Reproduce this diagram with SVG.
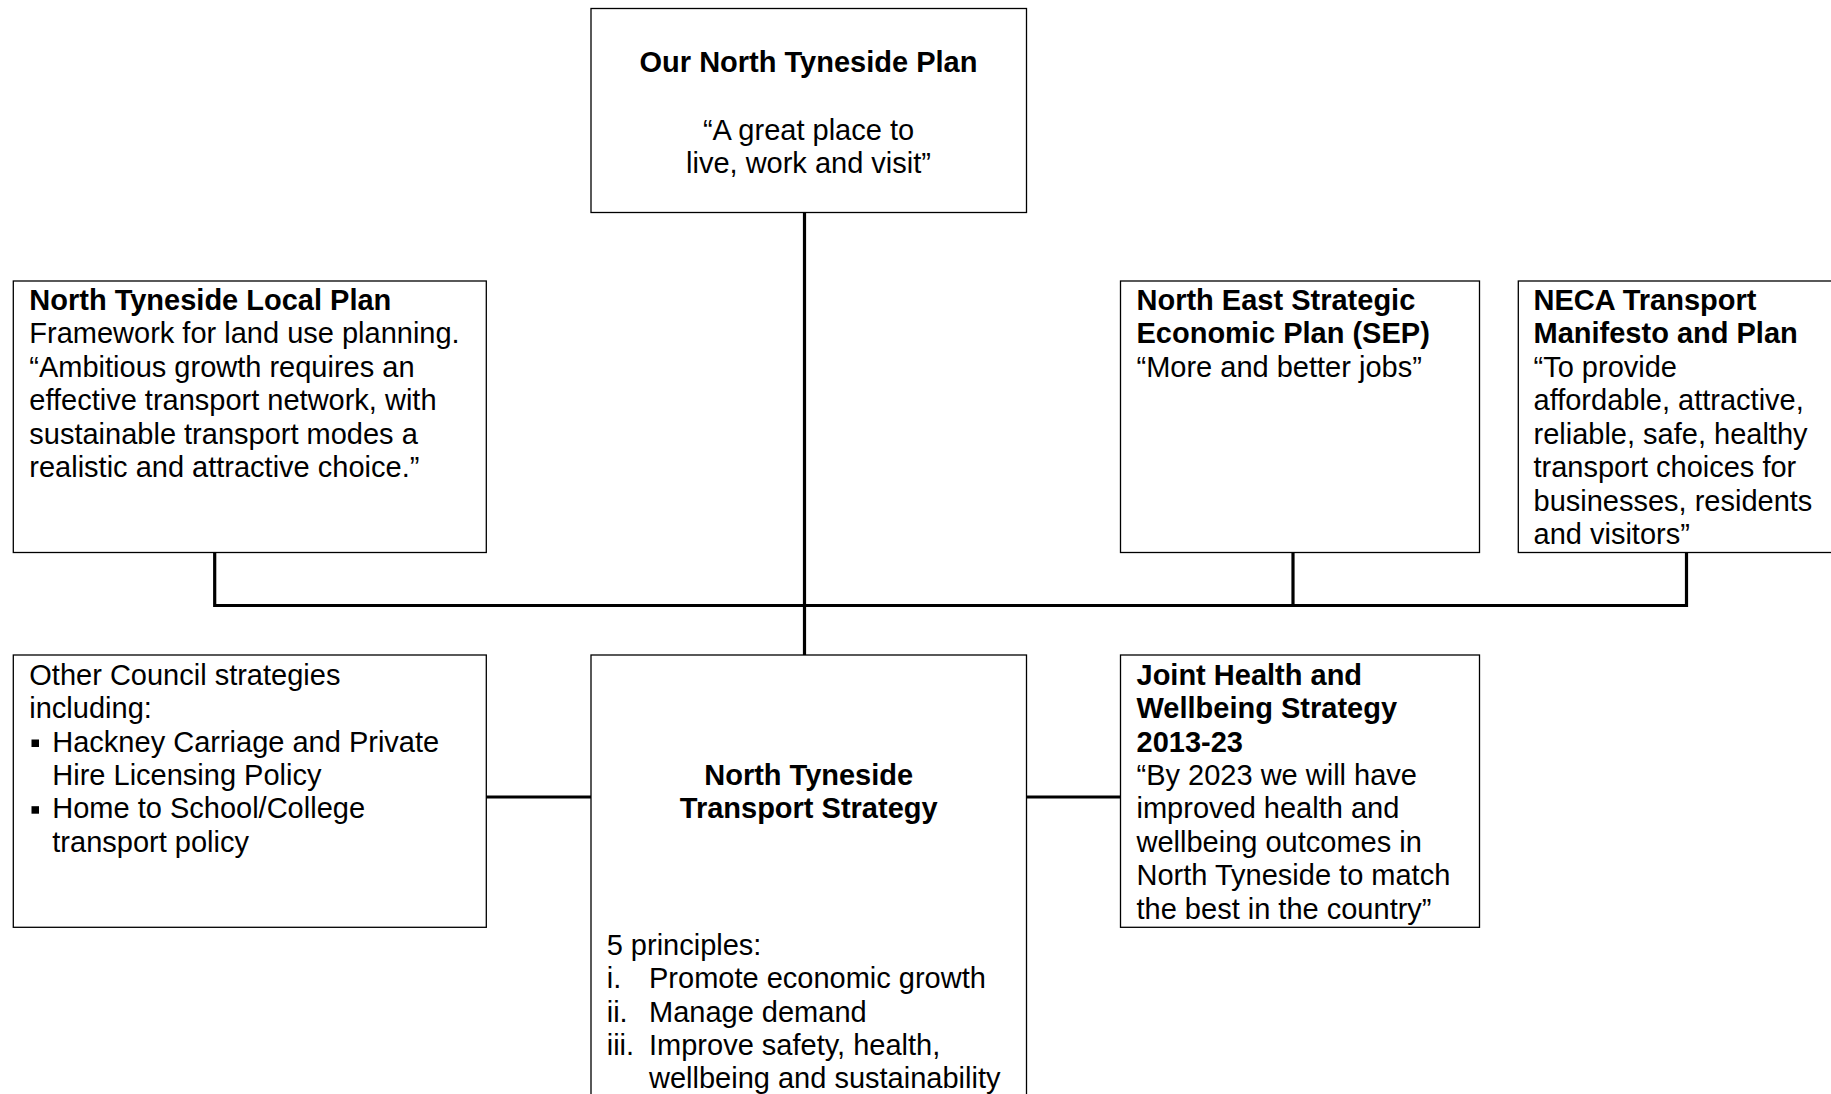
<svg xmlns="http://www.w3.org/2000/svg" width="1831" height="1094" viewBox="0 0 1831 1094">
<style>
.box{fill:#fff;stroke:#000;stroke-width:1.3}
.t{font-family:"Liberation Sans",Arial,sans-serif;font-size:29px;fill:#000}
.b{font-weight:bold}
.c{text-anchor:middle}
.conn{stroke:#000;stroke-width:3.2;fill:none;stroke-linecap:butt;stroke-linejoin:miter}
</style>
<rect width="1831" height="1094" fill="#fff"/>
<g id="connectors">
<line class="conn" x1="804.5" y1="212.5" x2="804.5" y2="663"/>
<polyline class="conn" points="214.7,552.5 214.7,605.5 1686.5,605.5 1686.5,552.5"/>
<line class="conn" x1="1293" y1="552.5" x2="1293" y2="605.5"/>
<line class="conn" x1="486" y1="797" x2="591" y2="797"/>
<line class="conn" x1="1026.5" y1="797" x2="1120" y2="797"/>
</g>
<g id="our-plan">
<rect class="box" x="591" y="8.5" width="435.5" height="204"/>
<text class="t b c" x="808.5" y="71.7">Our North Tyneside Plan</text>
<text class="t c" x="808.5" y="140">“A great place to</text>
<text class="t c" x="808.5" y="173.3">live, work and visit”</text>
</g>
<g id="local-plan">
<rect class="box" x="13.3" y="281" width="473" height="271.5"/>
<text class="t b" x="29.3" y="309.5">North Tyneside Local Plan</text>
<text class="t" x="29.3" y="343">Framework for land use planning.</text>
<text class="t" x="29.3" y="376.5">“Ambitious growth requires an</text>
<text class="t" x="29.3" y="410">effective transport network, with</text>
<text class="t" x="29.3" y="443.5">sustainable transport modes a</text>
<text class="t" x="29.3" y="477">realistic and attractive choice.”</text>
</g>
<g id="sep">
<rect class="box" x="1120.5" y="281" width="359" height="271.5"/>
<text class="t b" x="1136.5" y="309.5">North East Strategic</text>
<text class="t b" x="1136.5" y="343">Economic Plan (SEP)</text>
<text class="t" x="1136.5" y="376.5">“More and better jobs”</text>
</g>
<g id="neca">
<rect class="box" x="1518.3" y="281" width="330" height="271.5"/>
<text class="t b" x="1533.5" y="309.5">NECA Transport</text>
<text class="t b" x="1533.5" y="343">Manifesto and Plan</text>
<text class="t" x="1533.5" y="376.5">“To provide</text>
<text class="t" x="1533.5" y="410">affordable, attractive,</text>
<text class="t" x="1533.5" y="443.5">reliable, safe, healthy</text>
<text class="t" x="1533.5" y="477">transport choices for</text>
<text class="t" x="1533.5" y="510.5">businesses, residents</text>
<text class="t" x="1533.5" y="544">and visitors”</text>
</g>
<g id="other-council">
<rect class="box" x="13.3" y="655" width="473" height="272.3"/>
<text class="t" x="29.3" y="685">Other Council strategies</text>
<text class="t" x="29.3" y="718.4">including:</text>
<rect x="31.5" y="739.5" width="7.5" height="7.5" fill="#000"/>
<text class="t" x="52.3" y="751.7">Hackney Carriage and Private</text>
<text class="t" x="52.3" y="785">Hire Licensing Policy</text>
<rect x="31.5" y="806.2" width="7.5" height="7.5" fill="#000"/>
<text class="t" x="52.3" y="818.4">Home to School/College</text>
<text class="t" x="52.3" y="851.8">transport policy</text>
</g>
<g id="transport-strategy">
<rect class="box" x="591" y="655" width="435.5" height="460"/>
<text class="t b c" x="808.7" y="785">North Tyneside</text>
<text class="t b c" x="808.7" y="818.4">Transport Strategy</text>
<text class="t" x="606.7" y="955">5 principles:</text>
<text class="t" x="606.7" y="988.3">i.</text>
<text class="t" x="649" y="988.3">Promote economic growth</text>
<text class="t" x="606.7" y="1021.7">ii.</text>
<text class="t" x="649" y="1021.7">Manage demand</text>
<text class="t" x="606.7" y="1055">iii.</text>
<text class="t" x="649" y="1055">Improve safety, health,</text>
<text class="t" x="649" y="1088.3">wellbeing and sustainability</text>
</g>
<g id="joint-health">
<rect class="box" x="1120.5" y="655" width="359" height="272.3"/>
<text class="t b" x="1136.5" y="685">Joint Health and</text>
<text class="t b" x="1136.5" y="718.4">Wellbeing Strategy</text>
<text class="t b" x="1136.5" y="751.7">2013-23</text>
<text class="t" x="1136.5" y="785">“By 2023 we will have</text>
<text class="t" x="1136.5" y="818.4">improved health and</text>
<text class="t" x="1136.5" y="851.8">wellbeing outcomes in</text>
<text class="t" x="1136.5" y="885.1">North Tyneside to match</text>
<text class="t" x="1136.5" y="918.5">the best in the country”</text>
</g>
</svg>
